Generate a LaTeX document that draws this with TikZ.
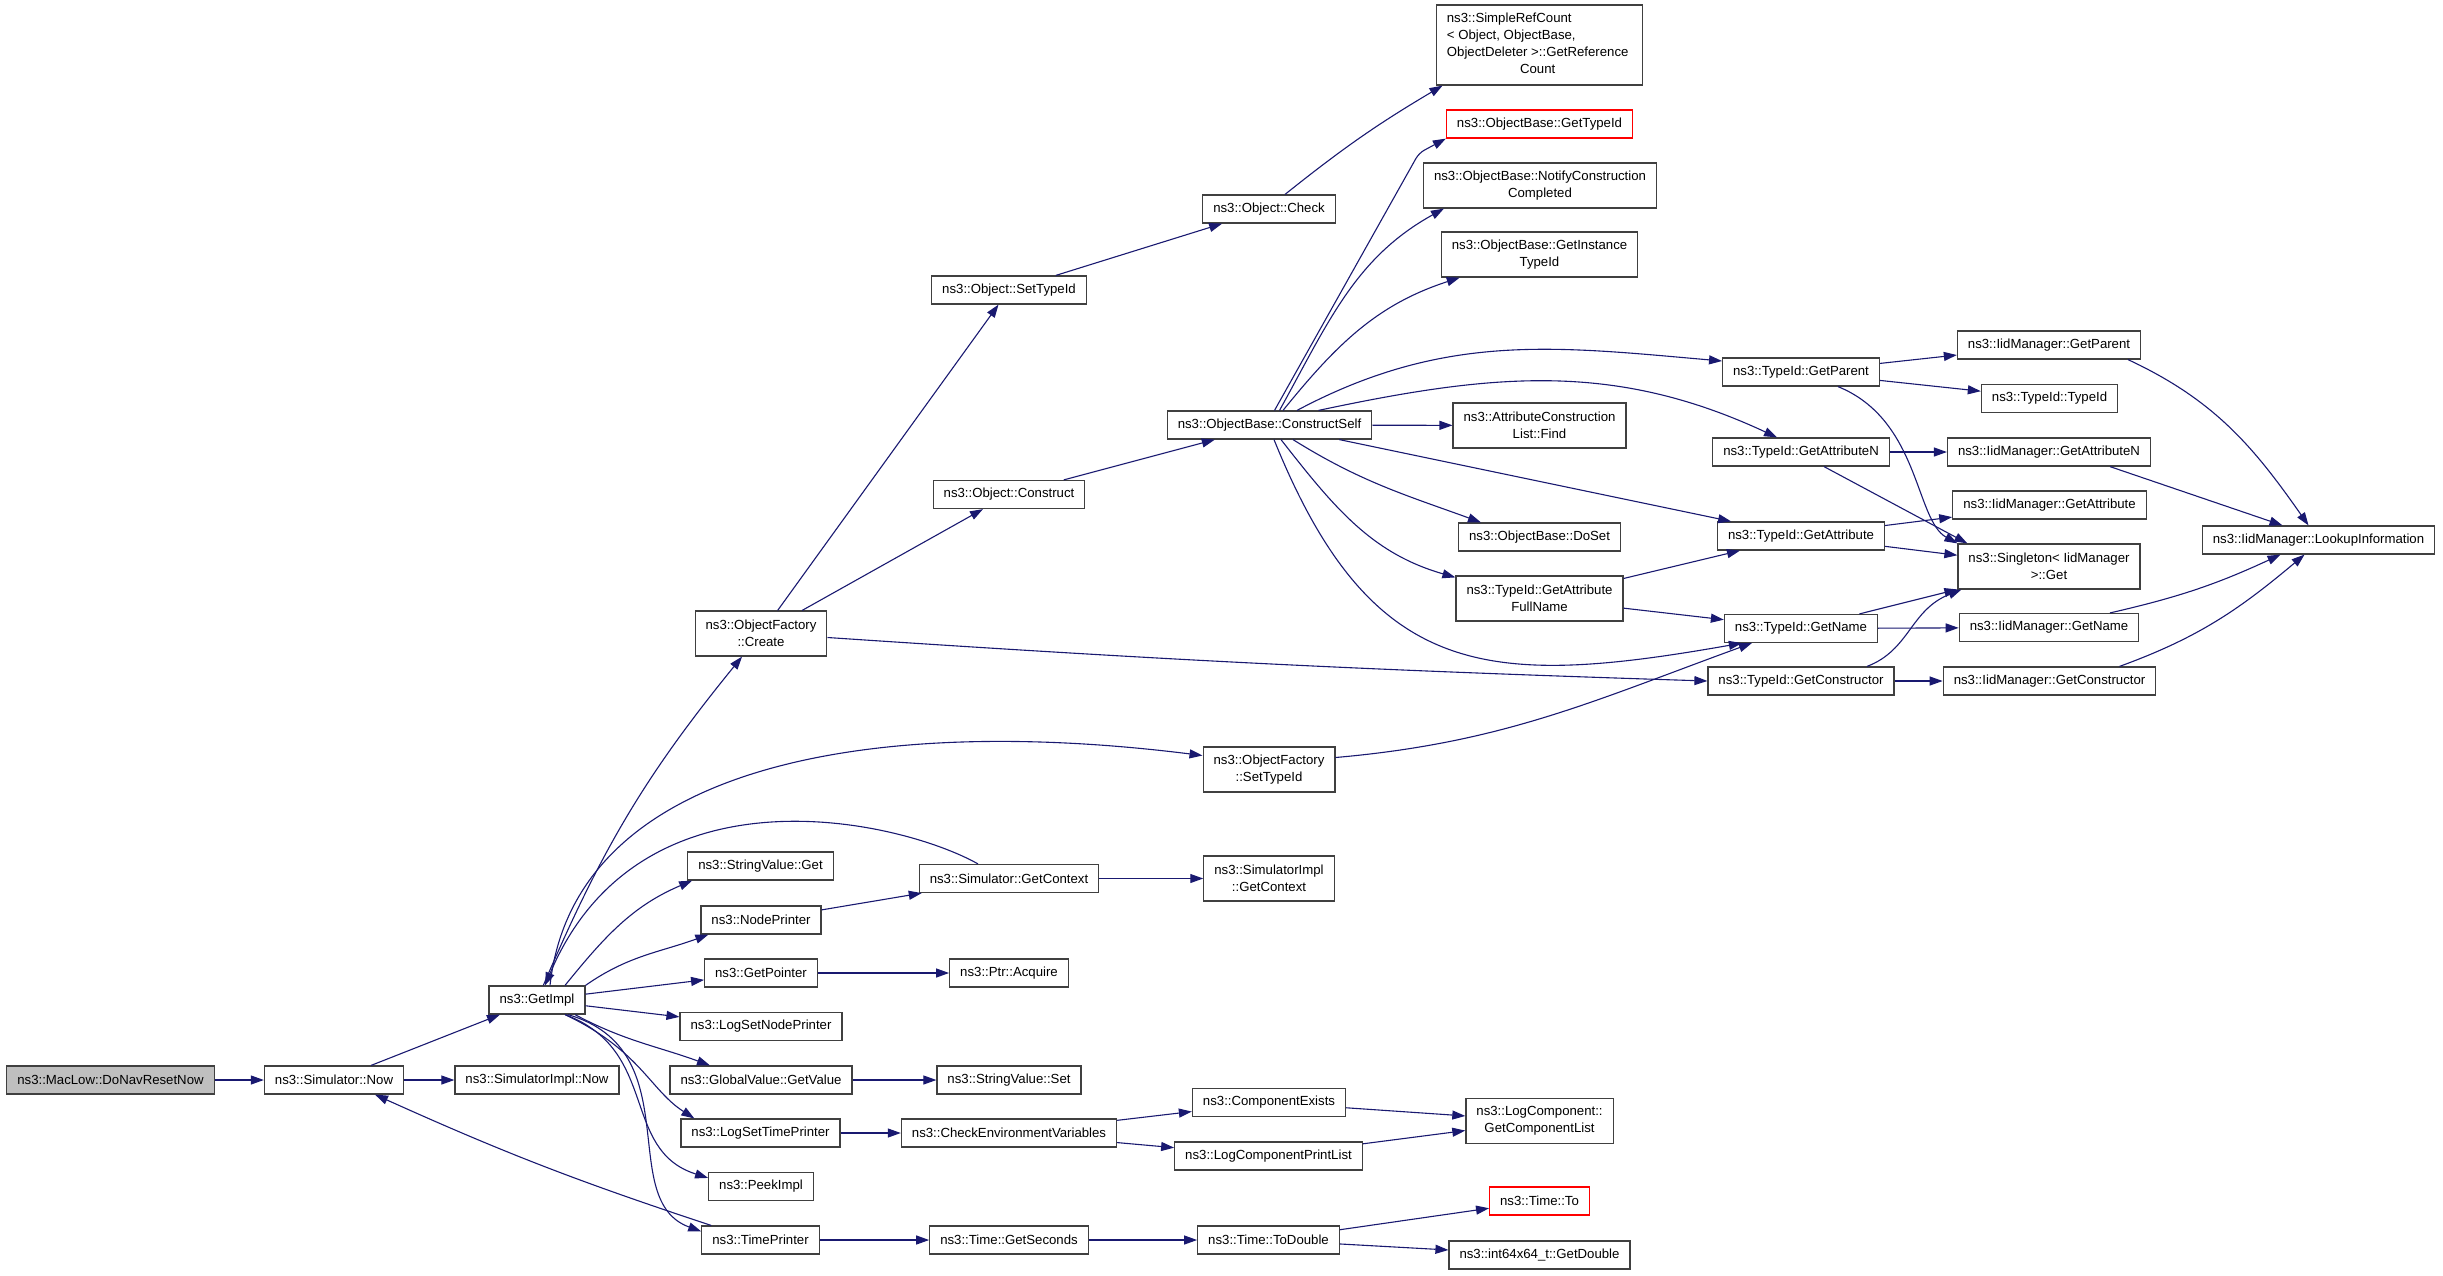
\documentclass[tikz,border=0pt]{standalone}
\usepackage{fontspec}
\setmainfont{Liberation Sans}
\usetikzlibrary{arrows.meta,positioning}

\definecolor{edgeblue}{HTML}{191970}
\definecolor{boxgray}{HTML}{404040}

\begin{document}
\begin{tikzpicture}[
    x=1pt, y=-1pt,
    func/.style={rectangle, draw=boxgray, line width=1.2pt, inner xsep=10.5pt, inner ysep=2pt, minimum height=28pt, font=\fontsize{13.2}{17}\selectfont, align=center},
    func2/.style={func, minimum height=45pt},
    root/.style={func, fill=black!25},
    undoc/.style={func, draw=red},
    arrow/.style={-{Triangle[length=13pt,width=9pt]}, edgeblue, line width=1.1pt}
]
    \useasboundingbox (0,0) rectangle (2443,1275);

    % Caller and first calls
    \node[root] (mac) at (110.5,1080) {ns3::MacLow::DoNavResetNow};
    \node[func] (now) at (334,1080) {ns3::Simulator::Now};
    \node[func] (simnow) at (537,1080) {ns3::SimulatorImpl::Now};
    \node[func] (getimpl) at (537,1000) {ns3::GetImpl};

    % Column 3
    \node[func2] (ofcreate) at (761,633.5) {ns3::ObjectFactory\\::Create};
    \node[func] (strget) at (760.5,866) {ns3::StringValue::Get};
    \node[func] (nodepr) at (761,920) {ns3::NodePrinter};
    \node[func] (getptr) at (761,973) {ns3::GetPointer};
    \node[func] (logsnp) at (761,1026.5) {ns3::LogSetNodePrinter};
    \node[func] (gvget) at (761,1080) {ns3::GlobalValue::GetValue};
    \node[func] (logstp) at (760.5,1133) {ns3::LogSetTimePrinter};
    \node[func] (peek) at (761,1186.5) {ns3::PeekImpl};
    \node[func] (timepr) at (760.5,1240) {ns3::TimePrinter};

    % Column 4
    \node[func] (osettid) at (1009,290) {ns3::Object::SetTypeId};
    \node[func] (oconstr) at (1009,494.5) {ns3::Object::Construct};
    \node[func] (simgctx) at (1009,878.5) {ns3::Simulator::GetContext};
    \node[func] (ptracq) at (1009,973) {ns3::Ptr::Acquire};
    \node[func] (strset) at (1009,1080) {ns3::StringValue::Set};
    \node[func] (checkenv) at (1009,1133) {ns3::CheckEnvironmentVariables};
    \node[func] (tgetsec) at (1009,1240) {ns3::Time::GetSeconds};

    % Column 5
    \node[func] (ocheck) at (1269,209) {ns3::Object::Check};
    \node[func] (cself) at (1269.5,425) {ns3::ObjectBase::ConstructSelf};
    \node[func2] (ofsettid) at (1269,769.5) {ns3::ObjectFactory\\::SetTypeId};
    \node[func2] (simigctx) at (1269,878.5) {ns3::SimulatorImpl\\::GetContext};
    \node[func] (compex) at (1269,1102.5) {ns3::ComponentExists};
    \node[func] (lcpl) at (1268.5,1156) {ns3::LogComponentPrintList};
    \node[func] (todbl) at (1268.5,1240) {ns3::Time::ToDouble};

    % Column 6
    \node[func, minimum height=80pt] (srefc) at (1539.5,45) {
        \begin{tabular}{@{}l@{}}
            ns3::SimpleRefCount\\
            < Object, ObjectBase,\\
            \multicolumn{1}{@{}c@{}}{ObjectDeleter >::GetReference}\\
            \multicolumn{1}{@{}c@{}}{Count}
        \end{tabular}
    };
    \node[undoc] (obgtid) at (1539.5,124) {ns3::ObjectBase::GetTypeId};
    \node[func2] (obnotify) at (1540,185.5) {ns3::ObjectBase::NotifyConstruction\\Completed};
    \node[func2] (obginst) at (1539.5,254.5) {ns3::ObjectBase::GetInstance\\TypeId};
    \node[func2] (acfind) at (1539.5,425.5) {ns3::AttributeConstruction\\List::Find};
    \node[func] (obdoset) at (1539.5,537) {ns3::ObjectBase::DoSet};
    \node[func2] (tgafn) at (1539.5,598.5) {ns3::TypeId::GetAttribute\\FullName};
    \node[func2] (gcl) at (1539.5,1121) {ns3::LogComponent::\\GetComponentList};
    \node[undoc] (timeto) at (1539.5,1201) {ns3::Time::To};
    \node[func] (i64) at (1539.5,1255) {ns3::int64x64\_t::GetDouble};

    % Column 7
    \node[func] (tgparent) at (1801,372) {ns3::TypeId::GetParent};
    \node[func] (tgattrn) at (1801,452) {ns3::TypeId::GetAttributeN};
    \node[func] (tgattr) at (1801,536) {ns3::TypeId::GetAttribute};
    \node[func] (tgname) at (1801,628.5) {ns3::TypeId::GetName};
    \node[func] (tgctor) at (1801,681) {ns3::TypeId::GetConstructor};

    % Column 8 and 9
    \node[func] (imgparent) at (2049,345) {ns3::IidManager::GetParent};
    \node[func] (ttypeid) at (2049.5,398.5) {ns3::TypeId::TypeId};
    \node[func] (imgattrn) at (2049,452) {ns3::IidManager::GetAttributeN};
    \node[func] (imgattr) at (2049.5,505) {ns3::IidManager::GetAttribute};
    \node[func2] (singget) at (2049,566.5) {ns3::Singleton< IidManager\\>::Get};
    \node[func] (imgname) at (2049,627.5) {ns3::IidManager::GetName};
    \node[func] (imgctor) at (2049.5,681) {ns3::IidManager::GetConstructor};
    \node[func] (imlookup) at (2318.5,540) {ns3::IidManager::LookupInformation};

    % Simulator::Now
    \draw[arrow] (mac) -- (now);
    \draw[arrow] (now) -- (getimpl);
    \draw[arrow] (now) -- (simnow);

    % GetImpl
    \draw[arrow] (getimpl) to[bend left=8] (ofcreate);
    \draw[arrow] ([xshift=13pt]getimpl.north) .. controls (575,760) and (880,715) .. ([yshift=14pt]ofsettid.west);
    \draw[arrow] ([xshift=28pt]getimpl.north) to[out=51,in=203] ([xshift=5pt]strget.south west);
    \draw[arrow] (getimpl.north east) to[out=35,in=200] ([xshift=8pt]nodepr.south west);
    \draw[arrow] (getimpl) -- (getptr);
    \draw[arrow] (getimpl) -- (logsnp);
    \draw[arrow] ([xshift=38pt]getimpl.south) to[out=-28,in=160] ([xshift=-51pt]gvget.north);
    \draw[arrow] ([xshift=28pt]getimpl.south) .. controls (640,1050) and (650,1090) .. ([xshift=14pt]logstp.north west);
    \draw[arrow] ([xshift=28pt]getimpl.south) .. controls (660,1050) and (620,1150) .. ([yshift=-6pt]peek.north west);
    \draw[arrow] ([xshift=31pt]getimpl.south) .. controls (690,1050) and (615,1200) .. ([yshift=-6pt]timepr.north west);
    \draw[arrow] ([xshift=-31pt]simgctx.north) .. controls (900,820) and (640,760) .. ([xshift=8pt]getimpl.north);
    \draw[arrow] ([xshift=10pt]timepr.north west) to[bend left=3] ([xshift=41pt]now.south);

    % ObjectFactory::Create
    \draw[arrow] (ofcreate) -- (osettid);
    \draw[arrow] (ofcreate) -- (oconstr);
    \draw[arrow] ([yshift=-4pt]ofcreate.east) to[bend right=1] (tgctor.west);
    \draw[arrow] (osettid) -- (ocheck);
    \draw[arrow] ([xshift=16pt]ocheck.north) to[bend left=4] ([xshift=-97pt]srefc.south);
    \draw[arrow] (oconstr) -- (cself);

    % ObjectBase::ConstructSelf
    \draw[arrow, rounded corners=6pt] ([xshift=5pt]cself.north) -- (1419,153) -- (obgtid.south west);
    \draw[arrow] ([xshift=10pt]cself.north) to[out=61,in=209] ([xshift=21pt]obnotify.south west);
    \draw[arrow] ([xshift=13.5pt]cself.north) to[out=51,in=198] ([xshift=19pt]obginst.south west);
    \draw[arrow] ([xshift=27.5pt]cself.north) to[out=28,in=175] ([yshift=11pt]tgparent.west);
    \draw[arrow] ([xshift=49pt]cself.north) to[out=12,in=155] ([xshift=-24pt]tgattrn.north);
    \draw[arrow] (cself) -- (acfind);
    \draw[arrow] (cself) -- (tgattr);
    \draw[arrow] ([xshift=23.5pt]cself.south) to[out=-32,in=160] ([xshift=23pt]obdoset.north west);
    \draw[arrow] ([xshift=11.5pt]cself.south) to[out=-52,in=164] ([yshift=-2pt]tgafn.north west);
    \draw[arrow] ([xshift=4.5pt]cself.south) to[out=-68,in=190,looseness=1.3] ([xshift=18pt]tgname.south west);
    \draw[arrow] ([yshift=12pt]ofsettid.east) to[out=5,in=200] ([xshift=28pt]tgname.south west);
    \draw[arrow] (tgafn) -- (tgattr);
    \draw[arrow] (tgafn) -- (tgname);

    % TypeId calls
    \draw[arrow] (tgparent) -- (imgparent);
    \draw[arrow] (tgparent) -- (ttypeid);
    \draw[arrow] ([xshift=37pt]tgparent.south) .. controls (1920,420) and (1915,520) .. (singget.north west);
    \draw[arrow] (tgattrn) -- (imgattrn);
    \draw[arrow] ([xshift=23pt]tgattrn.south) -- ([xshift=10pt]singget.north west);
    \draw[arrow] (tgattr) -- (imgattr);
    \draw[arrow] (tgattr) -- (singget);
    \draw[arrow] (tgname) -- (singget);
    \draw[arrow] (tgname) -- (imgname);
    \draw[arrow] ([xshift=66pt]tgctor.north) .. controls (1910,650) and (1910,610) .. ([xshift=4pt]singget.south west);
    \draw[arrow] (tgctor) -- (imgctor);

    % IidManager::LookupInformation
    \draw[arrow] ([xshift=79pt]imgparent.south) to[out=-25,in=125] ([xshift=-10pt]imlookup.north);
    \draw[arrow] ([xshift=61pt]imgattrn.south) -- ([xshift=-36pt]imlookup.north);
    \draw[arrow] ([xshift=61pt]imgname.north) to[bend right=6] ([xshift=-38pt]imlookup.south);
    \draw[arrow] ([xshift=70pt]imgctor.north) to[out=20,in=220] ([xshift=-14pt]imlookup.south);

    % Lower calls
    \draw[arrow] (nodepr) -- (simgctx);
    \draw[arrow] (simgctx) -- (simigctx);
    \draw[arrow] (getptr) -- (ptracq);
    \draw[arrow] (gvget) -- (strset);
    \draw[arrow] (logstp) -- (checkenv);
    \draw[arrow] (checkenv) -- (compex);
    \draw[arrow] (checkenv) -- (lcpl);
    \draw[arrow] (compex) -- (gcl);
    \draw[arrow] (lcpl) -- (gcl);
    \draw[arrow] (timepr) -- (tgetsec);
    \draw[arrow] (tgetsec) -- (todbl);
    \draw[arrow] (todbl) -- (timeto);
    \draw[arrow] (todbl) -- (i64);
\end{tikzpicture}
\end{document}
